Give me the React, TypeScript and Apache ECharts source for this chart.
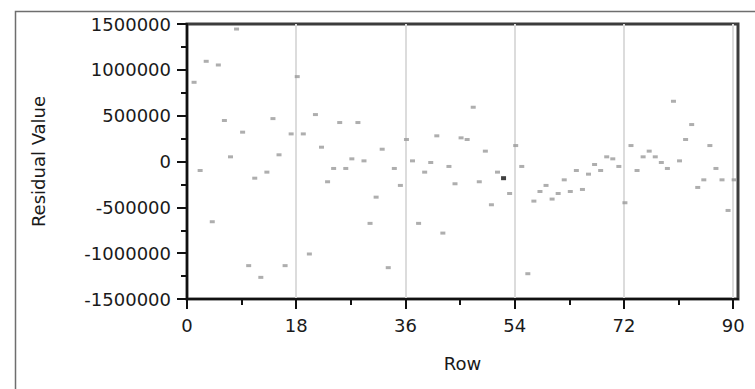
import React, { useEffect, useRef } from "react";
import * as echarts from "echarts";

const rows = [
  1, 2, 3, 4, 5, 6, 7, 8, 9, 10, 11, 12, 13, 14, 15, 16, 17, 18, 19, 20,
  21, 22, 23, 24, 25, 26, 27, 28, 29, 30, 31, 32, 33, 34, 35, 36, 37, 38, 39, 40,
  41, 42, 43, 44, 45, 46, 47, 48, 49, 50, 51, 52, 53, 54, 55, 56, 57, 58, 59, 60,
  61, 62, 63, 64, 65, 66, 67, 68, 69, 70, 71, 72, 73, 74, 75, 76, 77, 78, 79, 80,
  81, 82, 83, 84, 85, 86, 87, 88, 89, 90,
];

const residuals = [
  864000, -98000, 1093000, -657000, 1053000, 447000, 51000, 1445000, 320000, -1136000,
  -182000, -1264000, -116000, 468000, 73000, -1136000, 301000, 926000, 301000, -1009000,
  512000, 156000, -221000, -76000, 425000, -76000, 29000, 425000, 7000, -675000,
  -389000, 134000, -1158000, -76000, -261000, 240000, 7000, -675000, -116000, -11000,
  280000, -781000, -54000, -243000, 258000, 240000, 592000, -221000, 113000, -472000,
  -116000, -182000, -349000, 174000, -54000, -1224000, -432000, -327000, -261000, -410000,
  -349000, -200000, -327000, -98000, -305000, -138000, -33000, -98000, 51000, 29000,
  -54000, -450000, 174000, -98000, 51000, 113000, 51000, -11000, -76000, 657000,
  7000, 240000, 403000, -283000, -200000, 174000, -76000, -200000, -534000, -200000,
];

const highlightedRow = 52;

const xMajorTicks = [0, 18, 36, 54, 72, 90];
const xMinorTicks = [9, 27, 45, 63, 81];

const FONT = "DejaVu Sans";

export default function App() {
  const ref = useRef<HTMLDivElement>(null);

  useEffect(() => {
    if (!ref.current) return;
    const chart = echarts.init(ref.current, null, { renderer: "svg" });

    const normal = rows
      .map((r, i) => [r, residuals[i]])
      .filter((p) => p[0] !== highlightedRow);
    const hi = rows
      .map((r, i) => [r, residuals[i]])
      .filter((p) => p[0] === highlightedRow);

    chart.setOption({
      animation: false,
      backgroundColor: "#ffffff",
      graphic: [
        {
          type: "rect",
          left: 13,
          top: 9,
          shape: { width: 760, height: 379 },
          style: { fill: "none", stroke: "#6e6e6e", lineWidth: 1.5 },
          silent: true,
          z: -10,
        },
      ],
      grid: {
        left: 187,
        top: 24,
        right: 17,
        bottom: 90,
        show: true,
        borderColor: "#3c3c3c",
        borderWidth: 3,
      },
      xAxis: [
        {
          type: "value",
          min: 0,
          max: 90.8,
          name: "Row",
          nameLocation: "middle",
          nameGap: 55,
          nameTextStyle: { fontFamily: FONT, fontSize: 18, color: "#1a1a1a" },
          axisLine: { show: true, onZero: false, lineStyle: { color: "#111", width: 2 } },
          axisTick: {
            show: true,
            customValues: xMajorTicks,
            length: 10,
            lineStyle: { color: "#111", width: 2 },
          },
          axisLabel: {
            customValues: xMajorTicks,
            margin: 17,
            fontFamily: FONT,
            fontSize: 18,
            color: "#1a1a1a",
          },
          splitLine: {
            show: true,
            lineStyle: { color: "#dcdcdc", width: 2 },
          },
        },
        {
          type: "value",
          min: 0,
          max: 90.8,
          position: "bottom",
          axisLine: { show: false, onZero: false },
          axisTick: {
            show: true,
            customValues: xMinorTicks,
            length: 6,
            lineStyle: { color: "#111", width: 2 },
          },
          axisLabel: { show: false },
          splitLine: { show: false },
        },
      ],
      yAxis: {
        type: "value",
        min: -1500000,
        max: 1500000,
        interval: 500000,
        name: "Residual Value",
        nameLocation: "middle",
        nameGap: 140,
        nameTextStyle: { fontFamily: FONT, fontSize: 18, color: "#1a1a1a" },
        axisLine: { show: true, onZero: false, lineStyle: { color: "#111", width: 2 } },
        axisTick: { show: true, length: 10, lineStyle: { color: "#111", width: 2 } },
        minorTick: { show: true, splitNumber: 2, length: 6, lineStyle: { color: "#111", width: 2 } },
        axisLabel: {
          margin: 16,
          fontFamily: FONT,
          fontSize: 18,
          color: "#1a1a1a",
          formatter: (v: number) => String(v),
        },
        splitLine: { show: false },
      },
      series: [
        {
          type: "scatter",
          xAxisIndex: 0,
          data: normal,
          symbol: "rect",
          symbolSize: [5, 3],
          symbolOffset: [1, 0],
          itemStyle: { color: "#9a9a9a" },
          silent: true,
          z: 3,
        },
        {
          type: "scatter",
          xAxisIndex: 0,
          data: hi,
          symbol: "rect",
          symbolSize: [5, 4],
          symbolOffset: [1, 0],
          itemStyle: { color: "#111" },
          silent: true,
          z: 4,
        },
      ],
    });

    return () => chart.dispose();
  }, []);

  return (
    <div
      ref={ref}
      style={{ position: "absolute", left: 0, top: 0, width: 755, height: 389 }}
    />
  );
}
